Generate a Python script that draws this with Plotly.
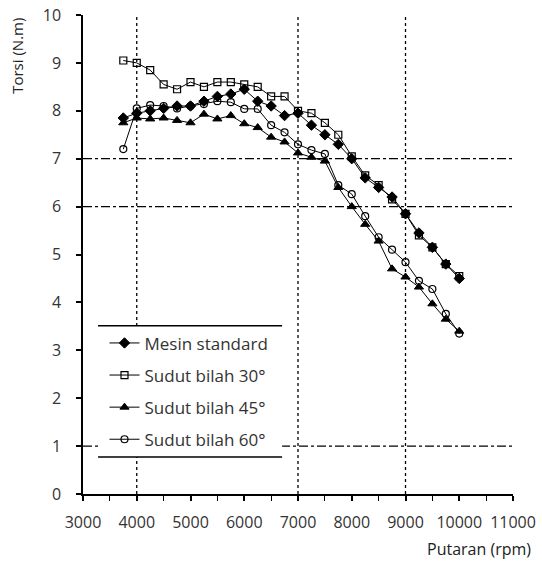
import plotly.graph_objects as go

rpm = [3750, 4000, 4250, 4500, 4750, 5000, 5250, 5500, 5750, 6000, 6250, 6500, 6750,
       7000, 7250, 7500, 7750, 8000, 8250, 8500, 8750, 9000, 9250, 9500, 9750, 10000]

mesin_standard = [7.85, 7.95, 8.0, 8.05, 8.1, 8.1, 8.2, 8.3, 8.35, 8.45, 8.2, 8.1, 7.9,
                  7.95, 7.7, 7.5, 7.3, 7.0, 6.6, 6.4, 6.2, 5.85, 5.45, 5.15, 4.8, 4.5]
sudut_30 = [9.05, 9.0, 8.85, 8.55, 8.45, 8.6, 8.5, 8.6, 8.6, 8.55, 8.5, 8.3, 8.3,
            8.0, 7.95, 7.75, 7.5, 7.05, 6.65, 6.45, 6.15, 5.85, 5.4, 5.15, 4.8, 4.55]
sudut_45 = [7.75, 7.85, 7.83, 7.85, 7.8, 7.75, 7.93, 7.83, 7.9, 7.73, 7.65, 7.45, 7.35,
            7.12, 7.03, 6.95, 6.4, 6.0, 5.63, 5.28, 4.7, 4.53, 4.32, 3.97, 3.65, 3.4]
sudut_60 = [7.2, 8.05, 8.12, 8.1, 8.05, 8.1, 8.14, 8.2, 8.18, 8.04, 8.04, 7.7, 7.55,
            7.3, 7.18, 7.1, 6.45, 6.26, 5.8, 5.36, 5.1, 4.84, 4.45, 4.28, 3.76, 3.35]

series_names = ["Mesin standard", "Sudut bilah 30°", "Sudut bilah 45°", "Sudut bilah 60°"]
x_ticks = [3000, 4000, 5000, 6000, 7000, 8000, 9000, 10000, 11000]
y_ticks = [0, 1, 2, 3, 4, 5, 6, 7, 8, 9, 10]
v_ref = [4000, 7000, 9000]
h_ref = [7, 6, 1]

FONT = "Open Sans"
TXT = "#333333"

styles = [
    dict(symbol="diamond", size=8, color="black", line=dict(color="black", width=1)),
    dict(symbol="square-open", size=7, color="black", line=dict(color="black", width=1.2)),
    dict(symbol="triangle-up", size=8, color="black", line=dict(color="black", width=1)),
    dict(symbol="circle-open", size=7, color="black", line=dict(color="black", width=1.2)),
]

fig = go.Figure()
for i, (name, ys) in enumerate(zip(series_names, [mesin_standard, sudut_30, sudut_45, sudut_60])):
    fig.add_trace(go.Scatter(
        x=rpm, y=ys, name=name, mode="lines+markers",
        line=dict(color="black", width=1),
        marker=styles[i], legendgroup=f"g{i}",
    ))

shapes = []
for xv in v_ref:
    shapes.append(dict(type="line", xref="x", yref="y", x0=xv, x1=xv, y0=0, y1=10,
                       line=dict(color="black", width=1.3, dash="dot"), layer="below"))
for yv in h_ref:
    shapes.append(dict(type="line", xref="x", yref="y", x0=3000, x1=11000, y0=yv, y1=yv,
                       line=dict(color="black", width=1.3, dash="dashdot"), layer="below"))
# legend background and its top/bottom rules
lx0, lx1, ly0, ly1 = 0.035, 0.463, 0.077, 0.351
shapes.append(dict(type="rect", xref="paper", yref="paper", x0=lx0, x1=lx1, y0=ly0, y1=ly1,
                   fillcolor="white", line=dict(width=0), layer="above"))
shapes.append(dict(type="line", xref="paper", yref="paper", x0=lx0, x1=lx1, y0=ly1, y1=ly1,
                   line=dict(color="black", width=1.5), layer="above"))
shapes.append(dict(type="line", xref="paper", yref="paper", x0=lx0, x1=lx1, y0=ly0, y1=ly0,
                   line=dict(color="black", width=1.5), layer="above"))

fig.update_layout(
    template="none",
    width=542, height=565,
    margin=dict(l=83, r=29, t=15, b=71, autoexpand=False),
    paper_bgcolor="white", plot_bgcolor="white",
    font=dict(family=FONT, color=TXT),
    shapes=shapes,
    showlegend=True,
    legend=dict(x=0.05, y=0.352, xanchor="left", yanchor="top",
                bgcolor="rgba(0,0,0,0)", borderwidth=0,
                font=dict(family=FONT, size=17, color=TXT),
                tracegroupgap=7, itemwidth=30),
    xaxis=dict(range=[3000, 11000], tickvals=x_ticks, ticktext=[str(v) for v in x_ticks],
               automargin=False, ticklabeloverflow="allow",
               showgrid=False, zeroline=False, showline=True, linecolor="black", linewidth=1.5,
               ticks="outside", ticklen=5, tickcolor="black", tickwidth=1.5,
               minor=dict(dtick=500, ticks="outside", ticklen=5, tickcolor="black", tickwidth=1.2),
               tickfont=dict(family=FONT, size=16, color=TXT), ticklabelstandoff=8),
    yaxis=dict(range=[0, 10], tickvals=y_ticks, automargin=False, ticklabeloverflow="allow",
               showgrid=False, zeroline=False, showline=True, linecolor="black", linewidth=1.5,
               ticks="outside", ticklen=5, tickcolor="black", tickwidth=1.5,
               tickfont=dict(family=FONT, size=16, color=TXT), ticklabelstandoff=12),
    annotations=[
        dict(text="Torsi (N.m)", xref="paper", yref="paper", x=-0.152, y=0.914,
             textangle=-90, showarrow=False, xanchor="center", yanchor="middle",
             font=dict(family=FONT, size=15, color="#222222")),
        dict(text="Putaran (rpm)", xref="paper", yref="paper", x=0.921, y=-0.115,
             showarrow=False, xanchor="center", yanchor="middle",
             font=dict(family=FONT, size=16, color="#222222")),
    ],
)

fig.write_html("out.html", config={"displayModeBar": False},
               post_script="document.body.style.margin='0';")
